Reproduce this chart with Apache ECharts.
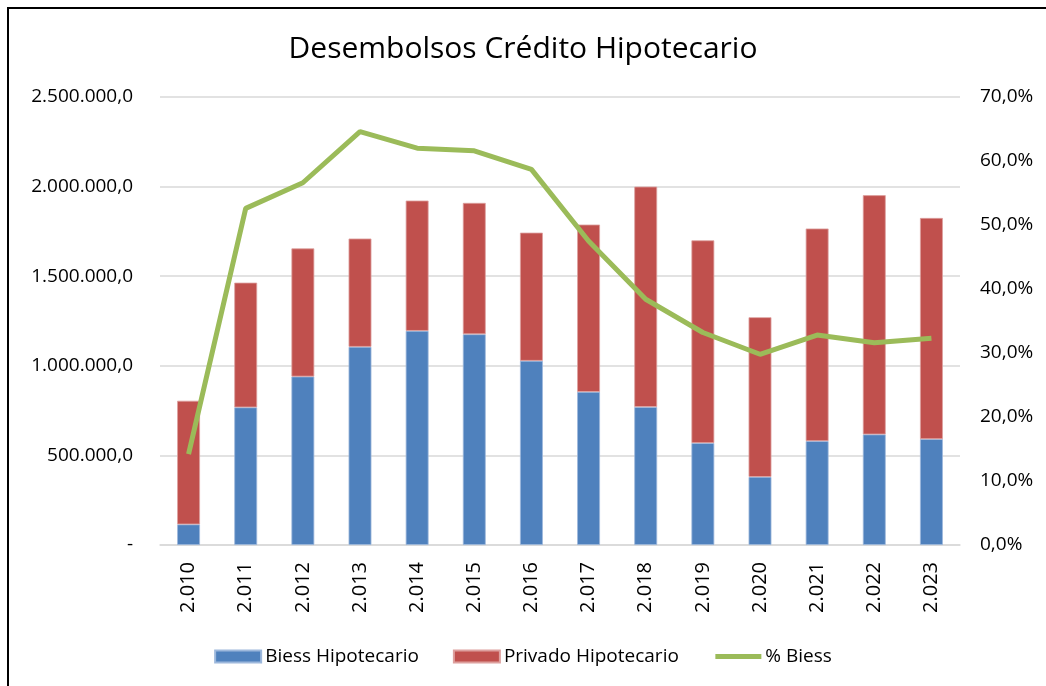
<!DOCTYPE html>
<html><head><meta charset="utf-8">
<script src="https://cdn.jsdelivr.net/npm/echarts@6/dist/echarts.min.js"></script>
<style>html,body{margin:0;padding:0;background:#fff}#c{width:1046px;height:686px}</style>
</head><body><div id="c"></div>
<script>
const categories = ['2.010','2.011','2.012','2.013','2.014','2.015','2.016','2.017','2.018','2.019','2.020','2.021','2.022','2.023'];
const biess = [115000, 768000, 940000, 1106000, 1195000, 1176000, 1028000, 854000, 770000, 569000, 380000, 580000, 617000, 591000];
const totals = [805000, 1464000, 1655000, 1710000, 1922000, 1909000, 1743000, 1788000, 2000000, 1700000, 1271000, 1766000, 1952000, 1825000];
const privado = totals.map((t,i)=>t-biess[i]);
const pctBiess = [14.2, 52.6, 56.6, 64.6, 62.0, 61.6, 58.7, 47.5, 38.4, 33.2, 29.8, 32.8, 31.6, 32.3];
const leftTicks = [0, 500000, 1000000, 1500000, 2000000, 2500000];
const rightTicks = [0,10,20,30,40,50,60,70];

const FONT = 'Open Sans';
function fmtLeft(v){
  if (v === 0) return '-';
  return v.toFixed(0).replace(/\B(?=(\d{3})+(?!\d))/g,'.') + ',0';
}
const chart = echarts.init(document.getElementById('c'), null, {renderer:'canvas'});
chart.setOption({
  animation:false,
  textStyle:{fontFamily:FONT},
  title:{text:'Desembolsos Crédito Hipotecario', left:'center', top:29,
    textStyle:{fontFamily:FONT, fontSize:30, fontWeight:'normal', color:'#000'}},
  graphic:[{type:'rect', shape:{x:8,y:8,width:1200,height:900}, style:{fill:'none', stroke:'#000', lineWidth:2}}],
  grid:{left:160, right:86, top:97, bottom:141, containLabel:false},
  legend:{top:642, left:'center', itemGap:34, itemWidth:46, itemHeight:12,
    textStyle:{fontFamily:FONT, fontSize:19, color:'#000', padding:[0,0,0,-1]},
    data:[{name:'Biess Hipotecario', icon:'rect'},{name:'Privado Hipotecario', icon:'rect'},
          {name:'% Biess', itemStyle:{opacity:0}, lineStyle:{width:5, color:'#9BBB59'}}]},
  xAxis:{type:'category', data:categories,
    axisLine:{lineStyle:{color:'#d9d9d9', width:1.5}}, axisTick:{show:false},
    axisLabel:{rotate:90, fontFamily:FONT, fontSize:20, color:'#000', margin:17}},
  yAxis:[
    {type:'value', min:0, max:2500000, interval:500000,
     axisLine:{show:false}, axisTick:{show:false},
     splitLine:{lineStyle:{color:'#d9d9d9', width:1.5}},
     axisLabel:{formatter:fmtLeft, fontFamily:FONT, fontSize:19, color:'#000', margin:27}},
    {type:'value', min:0, max:70, interval:10,
     axisLine:{show:false}, axisTick:{show:false}, splitLine:{show:false},
     axisLabel:{formatter:v=>v.toFixed(1).replace('.',',')+'%', fontFamily:FONT, fontSize:19, color:'#000', margin:20}}
  ],
  series:[
    {name:'Biess Hipotecario', type:'bar', stack:'a', data:biess, barWidth:'40%',
     itemStyle:{color:'#4F81BD', borderColor:'#9DB8DC', borderWidth:0.8}},
    {name:'Privado Hipotecario', type:'bar', stack:'a', data:privado, barWidth:'40%',
     itemStyle:{color:'#C0504D', borderColor:'#DDA09E', borderWidth:0.8}},
    {name:'% Biess', type:'line', yAxisIndex:1, data:pctBiess, symbol:'none',
     lineStyle:{color:'#9BBB59', width:5}, itemStyle:{color:'#9BBB59'}}
  ]
});
</script></body></html>
